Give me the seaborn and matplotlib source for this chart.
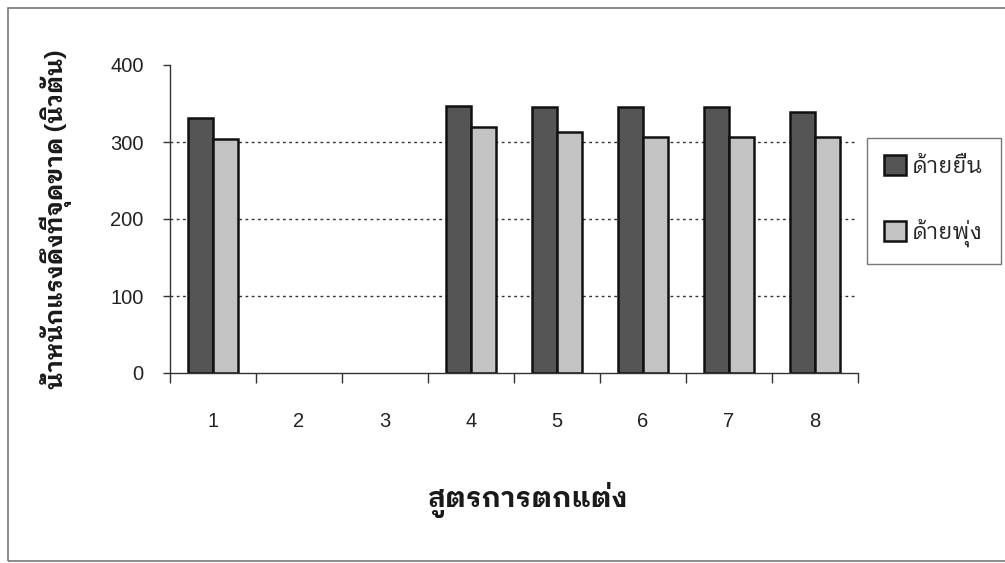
import matplotlib
matplotlib.use("Agg")
import matplotlib.pyplot as plt
from matplotlib.patches import Rectangle
from matplotlib.ticker import FixedLocator
from matplotlib.font_manager import FontProperties
from matplotlib.textpath import TextPath
import numpy as np
import pandas as pd
import seaborn as sns

# Breaking strength per finishing formula (formulas 2 and 3 were not tested)
formulas = ["1", "2", "3", "4", "5", "6", "7", "8"]
warp = [331, np.nan, np.nan, 347, 346, 346, 345, 339]
weft = [304, np.nan, np.nan, 320, 313, 306, 306, 307]
series_names = ["ด้ายยืน", "ด้ายพุ่ง"]
y_ticks = [0, 100, 200, 300, 400]

ylabel = "น้ำหนักแรงดึงที่จุดขาด (นิวตัน)"
xlabel = "สูตรการตกแต่ง"

df = pd.DataFrame({
    "formula": formulas * 2,
    "value": warp + weft,
    "thread": [series_names[0]] * len(formulas) + [series_names[1]] * len(formulas),
}).dropna()

sns.set_theme(style="white")
plt.rcParams["font.family"] = ["Liberation Sans", "DejaVu Sans"]
THAI = "IBM Plex Sans Thai Looped"
thai_bold = FontProperties(family=[THAI, "Liberation Sans"], weight="bold")
thai_reg = FontProperties(family=[THAI, "Liberation Sans"], weight="normal")

DPI = 100


def size_for_width(text, prop, width_px):
    """Font size (pt) at which `text` is `width_px` pixels long."""
    w = TextPath((0, 0), text, size=10, prop=prop).get_extents().width  # in pt at size 10
    return 10 * (width_px * 72 / DPI) / w


fig = plt.figure(figsize=(10.05, 5.63), dpi=DPI)
ax = fig.add_axes([170 / 1005, 1 - 373 / 563, (858 - 170) / 1005, (373 - 65) / 563])

sns.barplot(
    data=df, x="formula", y="value", hue="thread",
    order=formulas, hue_order=series_names,
    palette=["#555555", "#c3c3c3"],
    width=0.58, gap=0, errorbar=None,
    edgecolor="#111111", linewidth=1.8, saturation=1,
    ax=ax,
)

ax.set_ylim(0, 400)
ax.set_xlim(-0.5, len(formulas) - 0.5)
ax.set_yticks(y_ticks)
ax.set_yticklabels([str(t) for t in y_ticks], fontsize=14.5, color="#222222")
ax.tick_params(axis="y", direction="out", length=5, width=1, color="#333333", pad=14, left=True)

# category labels centred, tick marks on the category boundaries
ax.set_xticks(range(len(formulas)))
ax.set_xticklabels(formulas, fontsize=14.5, color="#222222")
ax.tick_params(axis="x", which="major", length=0, pad=28)
ax.xaxis.set_minor_locator(FixedLocator(np.arange(-0.5, len(formulas), 1.0)))
ax.tick_params(axis="x", which="minor", direction="out", length=7, width=1,
               color="#333333", bottom=True)

for y in y_ticks[1:-1]:
    ax.axhline(y, color="#333333", lw=1, ls=(0, (2, 2.5)), zorder=0)

for side in ["top", "right"]:
    ax.spines[side].set_visible(False)
for side in ["left", "bottom"]:
    ax.spines[side].set_color("#333333")
    ax.spines[side].set_linewidth(1)

ax.set_xlabel("")
ax.set_ylabel("")

yl_size = size_for_width(ylabel, thai_bold, 338)
xl_size = size_for_width(xlabel, thai_bold, 197)
fig.text(56 / 1005, 1 - 219 / 563, ylabel, rotation=90, ha="center", va="center",
         fontproperties=thai_bold, fontsize=yl_size, color="#1a1a1a")
fig.text(527 / 1005, 1 - 500 / 563, xlabel, ha="center", va="center",
         fontproperties=thai_bold, fontsize=xl_size, color="#1a1a1a")

# legend box roughly 867..995 x 138..265 px
lg_size = size_for_width(series_names[0], thai_reg, 68)
f_px = lg_size * DPI / 72
leg_prop = FontProperties(family=[THAI, "Liberation Sans"], weight="normal", size=lg_size)
leg = ax.legend(
    loc="upper left", bbox_to_anchor=(867 / 1005, 1 - 138 / 563),
    bbox_transform=fig.transFigure, frameon=True, fancybox=False,
    prop=leg_prop, handlelength=22 / f_px, handleheight=22 / f_px,
    labelspacing=41 / f_px, borderpad=17 / f_px, borderaxespad=0,
    handletextpad=6 / f_px,
)
leg.get_frame().set_edgecolor("#555555")
leg.get_frame().set_linewidth(1)
for h in leg.legend_handles:
    h.set_edgecolor("#111111")
    h.set_linewidth(1.8)

# thin frame around the whole chart area
fig.patches.append(Rectangle((8 / 1005, 2 / 563), 1.0, (561 - 8) / 563,
                             transform=fig.transFigure, fill=False,
                             edgecolor="#777777", lw=1.2, clip_on=False))

fig.savefig("out.png", dpi=DPI, facecolor="white")
